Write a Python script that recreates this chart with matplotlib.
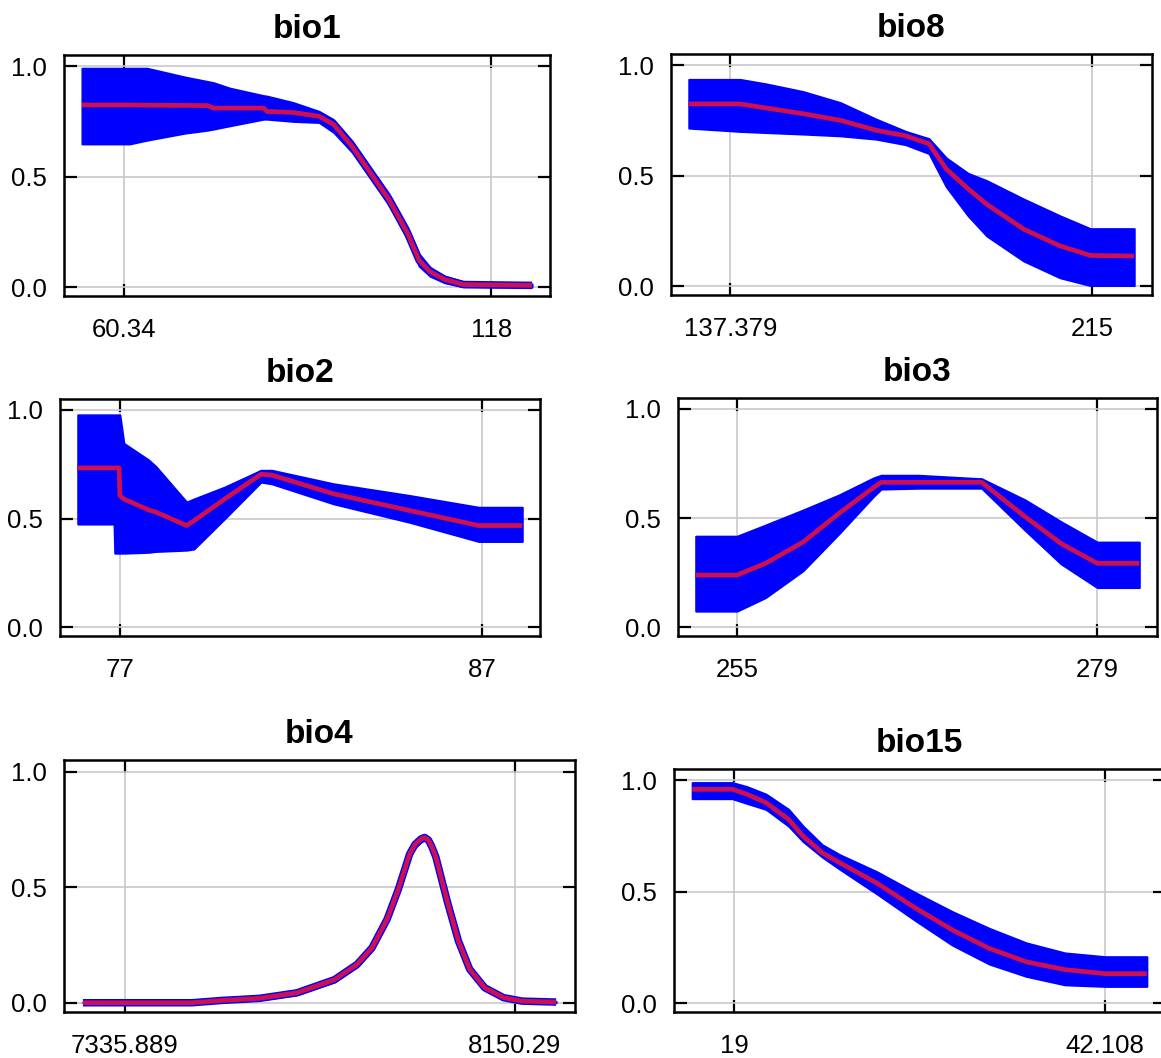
import matplotlib
matplotlib.use('Agg')
import matplotlib.pyplot as plt

plt.rcParams['font.family'] = ['Liberation Sans', 'DejaVu Sans']

# response curves: x, mean, lower, upper
bio1_x = [53.8, 61.3, 64.0, 70.0, 73.5, 74.4, 77.0, 82.3, 82.8, 86.9, 91.0, 93.3, 96.2, 99.1, 102.0, 104.9, 106.7, 108.4, 110.7, 113.6, 124.4]
bio1_mean = [0.824, 0.824, 0.823, 0.822, 0.821, 0.81, 0.81, 0.81, 0.795, 0.79, 0.773, 0.735, 0.636, 0.515, 0.394, 0.242, 0.121, 0.07, 0.035, 0.012, 0.008]
bio1_lo = [0.648, 0.648, 0.665, 0.697, 0.71, 0.715, 0.73, 0.76, 0.76, 0.75, 0.745, 0.70, 0.61, 0.49, 0.37, 0.215, 0.095, 0.05, 0.02, 0.002, 0.0]
bio1_hi = [0.99, 0.99, 0.99, 0.95, 0.93, 0.925, 0.90, 0.866, 0.864, 0.835, 0.795, 0.757, 0.66, 0.54, 0.42, 0.27, 0.15, 0.09, 0.05, 0.025, 0.015]
bio1_ticks = ['60.34', '118']

bio8_x = [128.5, 139.5, 145.0, 153.0, 161.0, 168.7, 175.0, 180.0, 183.7, 188.4, 192.4, 200.3, 208.1, 214.6, 224.0]
bio8_mean = [0.824, 0.824, 0.806, 0.78, 0.75, 0.705, 0.68, 0.644, 0.53, 0.44, 0.37, 0.258, 0.182, 0.139, 0.136]
bio8_lo = [0.715, 0.70, 0.695, 0.688, 0.68, 0.665, 0.64, 0.60, 0.45, 0.318, 0.227, 0.114, 0.038, 0.003, 0.003]
bio8_hi = [0.935, 0.935, 0.915, 0.88, 0.83, 0.755, 0.70, 0.667, 0.58, 0.51, 0.477, 0.394, 0.318, 0.26, 0.26]
bio8_ticks = ['137.379', '215']

bio2_x = [75.85, 76.85, 76.87, 76.99, 77.01, 77.12, 77.8, 78.0, 78.85, 79.05, 79.9, 80.9, 81.2, 82.9, 85.0, 86.9, 88.1]
bio2_mean = [0.733, 0.733, 0.733, 0.733, 0.606, 0.59, 0.54, 0.53, 0.468, 0.49, 0.59, 0.704, 0.70, 0.614, 0.537, 0.468, 0.468]
bio2_lo = [0.475, 0.475, 0.341, 0.341, 0.341, 0.341, 0.345, 0.349, 0.355, 0.36, 0.50, 0.668, 0.66, 0.568, 0.483, 0.395, 0.395]
bio2_hi = [0.977, 0.977, 0.977, 0.977, 0.977, 0.846, 0.77, 0.74, 0.576, 0.59, 0.645, 0.722, 0.722, 0.66, 0.606, 0.552, 0.552]
bio2_ticks = ['77', '87']

bio3_x = [252.25, 255.0, 256.9, 259.4, 261.8, 264.1, 264.6, 267.1, 271.3, 274.2, 276.6, 279.0, 281.8]
bio3_mean = [0.239, 0.239, 0.293, 0.39, 0.522, 0.64, 0.664, 0.664, 0.664, 0.506, 0.383, 0.293, 0.293]
bio3_lo = [0.074, 0.074, 0.136, 0.259, 0.429, 0.60, 0.633, 0.637, 0.637, 0.444, 0.29, 0.182, 0.182]
bio3_hi = [0.417, 0.417, 0.468, 0.537, 0.606, 0.684, 0.696, 0.696, 0.68, 0.583, 0.483, 0.39, 0.39]
bio3_ticks = ['255', '279']

bio4_x = [7248.0, 7475.5, 7538.3, 7616.8, 7695.2, 7773.7, 7820.8, 7852.1, 7883.5, 7907.1, 7930.6, 7942.0, 7954.1, 7962.0, 7969.8, 7977.0, 7985.5, 8009.1, 8032.6, 8056.1, 8087.5, 8126.8, 8166.0, 8236.6]
bio4_mean = [0.0, 0.0, 0.01, 0.019, 0.043, 0.10, 0.166, 0.238, 0.361, 0.491, 0.643, 0.685, 0.708, 0.715, 0.704, 0.675, 0.63, 0.44, 0.267, 0.145, 0.065, 0.022, 0.007, 0.003]
bio4_lo = [0.0, 0.0, 0.005, 0.012, 0.035, 0.09, 0.155, 0.226, 0.348, 0.478, 0.63, 0.672, 0.695, 0.703, 0.692, 0.662, 0.617, 0.427, 0.254, 0.133, 0.055, 0.015, 0.002, 0.0]
bio4_hi = [0.002, 0.003, 0.015, 0.026, 0.051, 0.11, 0.177, 0.25, 0.374, 0.504, 0.656, 0.698, 0.72, 0.727, 0.716, 0.688, 0.643, 0.453, 0.28, 0.157, 0.075, 0.028, 0.012, 0.006]
bio4_ticks = ['7335.889', '8150.29']

bio15_x = [16.4, 18.9, 19.8, 21.0, 22.4, 23.3, 24.5, 25.6, 27.9, 30.3, 32.6, 34.9, 37.2, 39.6, 42.1, 44.7]
bio15_mean = [0.959, 0.959, 0.937, 0.899, 0.824, 0.749, 0.674, 0.629, 0.538, 0.426, 0.328, 0.245, 0.185, 0.15, 0.132, 0.132]
bio15_lo = [0.917, 0.917, 0.896, 0.869, 0.794, 0.725, 0.655, 0.60, 0.49, 0.37, 0.26, 0.175, 0.12, 0.082, 0.075, 0.075]
bio15_hi = [0.989, 0.989, 0.971, 0.937, 0.869, 0.794, 0.71, 0.665, 0.589, 0.495, 0.41, 0.335, 0.27, 0.225, 0.208, 0.208]
bio15_ticks = ['19', '42.108']

W, H = 1161, 1058
fig = plt.figure(figsize=(W / 100, H / 100), dpi=100)


def add_panel(box, name, x, mean, lo, hi, xlabels):
    l, t, r, b = box
    ax = fig.add_axes([l / W, 1 - b / H, (r - l) / W, (b - t) / H])
    ax.fill_between(x, lo, hi, color='#0000FF', lw=1.5, zorder=2)
    # blue halo under the mean line, as in the original plot
    ax.plot(x, mean, color='#0000FF', lw=5.4, zorder=2.5, solid_capstyle='butt')
    ax.plot(x, mean, color='#CC1050', lw=3.4, zorder=3, solid_capstyle='butt')
    span = x[-1] - x[0]
    ax.set_xlim(x[0] - 0.04 * span, x[-1] + 0.04 * span)
    ax.set_ylim(-0.04, 1.05)
    ax.set_xticks([float(s) for s in xlabels])
    ax.set_xticklabels(xlabels)
    ax.set_yticks([0, 0.5, 1.0])
    ax.set_yticklabels(['0.0', '0.5', '1.0'])
    ax.grid(True, color='#C8C8C8', lw=1.2)
    ax.set_axisbelow(True)
    ax.tick_params(direction='in', length=9, width=1.6, top=True, right=True,
                   labelsize=18.5, colors='black')
    ax.tick_params(axis='x', pad=16)
    ax.tick_params(axis='y', pad=12)
    for s in ax.spines.values():
        s.set_linewidth(1.8)
    ax.set_title(name, fontsize=24, fontweight='bold', pad=12)
    return ax


add_panel((64, 55, 550, 296), 'bio1', bio1_x, bio1_mean, bio1_lo, bio1_hi, bio1_ticks)
add_panel((671, 54, 1152, 295), 'bio8', bio8_x, bio8_mean, bio8_lo, bio8_hi, bio8_ticks)
add_panel((60, 399, 540, 636), 'bio2', bio2_x, bio2_mean, bio2_lo, bio2_hi, bio2_ticks)
add_panel((678, 398, 1157, 636), 'bio3', bio3_x, bio3_mean, bio3_lo, bio3_hi, bio3_ticks)
add_panel((64, 760, 575, 1012), 'bio4', bio4_x, bio4_mean, bio4_lo, bio4_hi, bio4_ticks)
add_panel((674, 769, 1165, 1012), 'bio15', bio15_x, bio15_mean, bio15_lo, bio15_hi, bio15_ticks)

fig.savefig('out.png', dpi=100)
